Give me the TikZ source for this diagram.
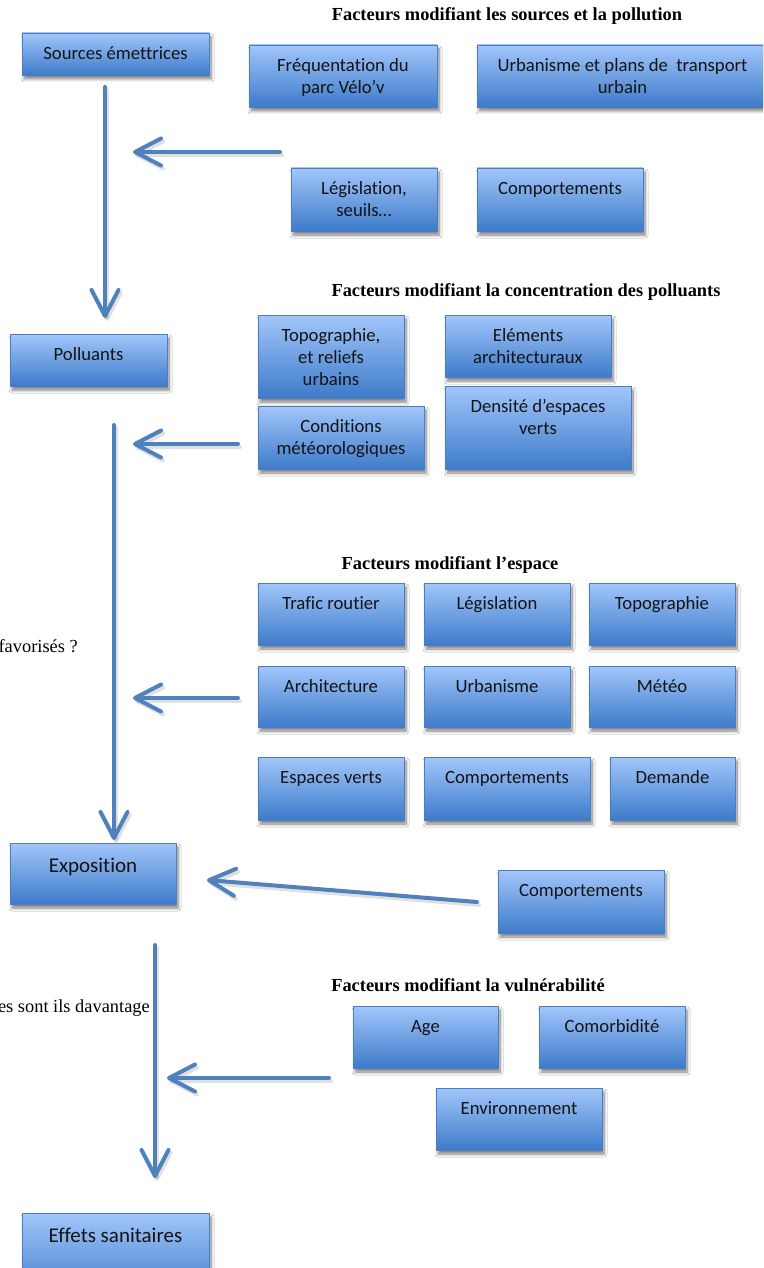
\documentclass[tikz,border=0pt]{standalone}
\usepackage{fontspec}
\setmainfont{Carlito}[Ligatures=NoCommon]
\newfontfamily\hdfont{Liberation Serif}
\usetikzlibrary{arrows.meta,shadows.blur}
\definecolor{boxtop}{HTML}{A2C6FA}
\definecolor{boxbot}{HTML}{3D7BCA}
\definecolor{boxline}{HTML}{4A7EC0}
\definecolor{arrowblue}{HTML}{4F81BD}
\definecolor{txt}{HTML}{141414}
\tikzset{
  box/.style={rectangle, draw=boxline, line width=0.8pt, top color=boxtop, bottom color=boxbot,
    inner sep=0pt, outer sep=0pt,
    blur shadow={shadow xshift=2pt, shadow yshift=-4pt, shadow blur steps=8, shadow blur radius=3pt, shadow opacity=50}},
  boxtxt/.style={inner sep=0pt, align=center, text=txt, font=\fontsize{18.7}{22}\selectfont},
  bigtxt/.style={font=\fontsize{21}{25}\selectfont, yshift=-3pt},
  header/.style={inner sep=0pt, anchor=base, font=\hdfont\bfseries\fontsize{18.4}{22}\selectfont},
  side/.style={inner sep=0pt, anchor=base east, font=\hdfont\fontsize{18.4}{22}\selectfont},
  conn/.style={draw=arrowblue, line width=4pt, line cap=round,
    -{Straight Barb[length=26pt, width=27pt, line width=4pt, round]}}
}
\newcommand{\mybox}[7][]{%
  \node[box, anchor=north west, minimum width={(#5-#3)*1pt}, minimum height={(#6-#4)*1pt}] (#2) at (#3,#4) {};
  \node[boxtxt, anchor=north, #1] (#2-t) at ({(#3+#5)/2},{#4+10}) {\rule{0pt}{16pt}#7};}
\begin{document}
\begin{tikzpicture}[x=1pt,y=-1pt]
\useasboundingbox (0,0) rectangle (763,1268);
\clip (0,0) rectangle (763,1268);
\fill[white] (0,0) rectangle (763,1268);

% headers
\node[header] (h1) at (507,21) {Facteurs modifiant les sources et la pollution};
\node[header] (h2) at (526,296) {Facteurs modifiant la concentration des polluants};
\node[header] (h3) at (450,569) {Facteurs modifiant l’espace};
\node[header] (h4) at (468,991) {Facteurs modifiant la vulnérabilité};

% side texts (cut at the left edge)
\node[side] (s1) at (78,652) {favorisés ?};
\node[side] (s2) at (150,1012) {es sont ils davantage};

% main boxes
\mybox{src}{22}{33}{209}{75}{Sources émettrices}
\mybox{poll}{10}{334}{167}{386}{Polluants}
\mybox[bigtxt]{expo}{10}{843}{176}{904}{Exposition}
\mybox[bigtxt]{eff}{22}{1213}{209}{1300}{Effets sanitaires}

% group 1
\mybox{freq}{249}{45}{437}{107}{Fréquentation du\\parc Vélo’v}
\mybox{urb}{477}{45}{768}{107}{Urbanisme et plans de\ \ transport\\urbain}
\mybox{leg}{291}{168}{437}{231}{Législation,\\seuils…}
\mybox{compa}{477}{168}{643}{231}{Comportements}

% group 2
\mybox{topo}{258}{315}{404}{398}{Topographie,\\et reliefs\\urbains}
\mybox{elem}{445}{315}{611}{377}{Eléments\\architecturaux}
\mybox{cond}{258}{406}{424}{469}{Conditions\\météorologiques}
\mybox{dens}{445}{386}{631}{469}{Densité d’espaces\\verts}

% group 3
\mybox{traf}{258}{583}{404}{645}{Trafic routier}
\mybox{legis}{424}{583}{570}{645}{Législation}
\mybox{topog}{589}{583}{735}{645}{Topographie}
\mybox{archi}{258}{666}{404}{727}{Architecture}
\mybox{urban}{424}{666}{570}{727}{Urbanisme}
\mybox{meteo}{589}{666}{735}{727}{Météo}
\mybox{esp}{258}{757}{404}{820}{Espaces verts}
\mybox{compb}{424}{757}{590}{820}{Comportements}
\mybox{dem}{610}{757}{735}{820}{Demande}

% exposition factor
\mybox{compc}{498}{870}{664}{933}{Comportements}

% group 4
\mybox{age}{353}{1006}{498}{1068}{Age}
\mybox{como}{539}{1006}{685}{1068}{Comorbidité}
\mybox{env}{436}{1088}{602}{1150}{Environnement}

% connector end points
\coordinate (v1a) at (105,87);   \coordinate (v1b) at (105,318);
\coordinate (g1a) at (280,152);  \coordinate (g1b) at (133,152);
\coordinate (v2a) at (114,425);  \coordinate (v2b) at (114,840);
\coordinate (g2a) at (238,444);  \coordinate (g2b) at (133,444);
\coordinate (g3a) at (238,698);  \coordinate (g3b) at (133,698);
\coordinate (g4a) at (477,902);  \coordinate (g4b) at (207,880);
\coordinate (v3a) at (155,945);  \coordinate (v3b) at (155,1178);
\coordinate (g5a) at (329,1078); \coordinate (g5b) at (167,1078);

\begin{scope}[transform canvas={xshift=2pt,yshift=-3pt}]
\foreach \a/\b in {v1a/v1b,g1a/g1b,v2a/v2b,g2a/g2b,g3a/g3b,g4a/g4b,v3a/v3b,g5a/g5b}
  \draw[conn, draw=black, opacity=0.12] (\a) -- (\b);
\end{scope}
\foreach \a/\b in {v1a/v1b,g1a/g1b,v2a/v2b,g2a/g2b,g3a/g3b,g4a/g4b,v3a/v3b,g5a/g5b}
  \draw[conn] (\a) -- (\b);
\end{tikzpicture}
\end{document}
